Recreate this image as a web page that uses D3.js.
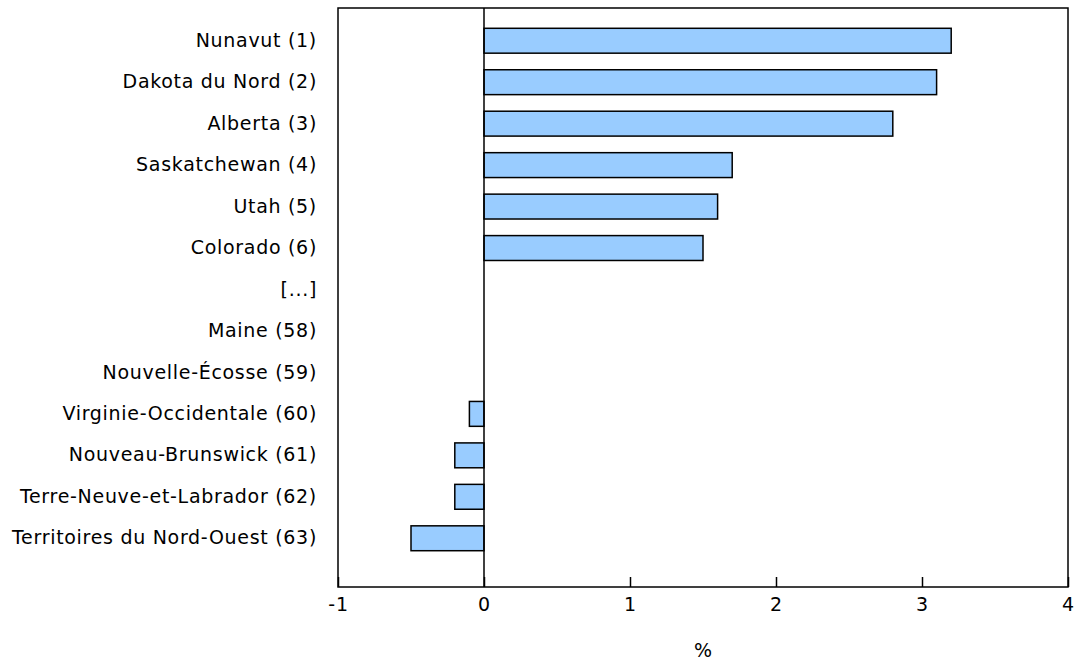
<!DOCTYPE html>
<html>
<head>
<meta charset="utf-8">
<script src="https://cdn.jsdelivr.net/npm/d3@7"></script>
<style>
    body { margin: 0; background: #fff; overflow: hidden; }
    svg text { font-family: Verdana, "DejaVu Sans", sans-serif; fill: #000; }
</style>
</head>
<body>
<div id="chart"></div>
<script>
// Data
const regions = [
    'Nunavut (1)',
    'Dakota du Nord (2)',
    'Alberta (3)',
    'Saskatchewan (4)',
    'Utah (5)',
    'Colorado (6)',
    '[...]',
    'Maine (58)',
    'Nouvelle-Écosse (59)',
    'Virginie-Occidentale (60)',
    'Nouveau-Brunswick (61)',
    'Terre-Neuve-et-Labrador (62)',
    'Territoires du Nord-Ouest (63)'
];
const values = [3.2, 3.1, 2.8, 1.7, 1.6, 1.5, 0, 0, 0, -0.1, -0.2, -0.2, -0.5];
const xTicks = [-1, 0, 1, 2, 3, 4];
const xTitle = '%';

const width = 1074;
const height = 661;
const margin = { top: 8, right: 6, bottom: 74, left: 338 };
const plotW = width - margin.left - margin.right;
const plotH = height - margin.top - margin.bottom;
const fontSize = '19px';
const letterSpacing = '0.7px';

const svg = d3.select('#chart')
    .append('svg')
    .attr('width', width)
    .attr('height', height);

const g = svg.append('g')
    .attr('transform', `translate(${margin.left},${margin.top})`);

// Scales
const x = d3.scaleLinear()
    .domain([-1, 4])
    .range([0, plotW]);

const y = d3.scaleBand()
    .domain(regions)
    .range([12, plotH - 28])
    .paddingInner(0.4)
    .paddingOuter(0.2);

// Bars
g.selectAll('rect.bar')
    .data(values)
    .enter()
    .append('rect')
    .attr('class', 'bar')
    .attr('x', d => x(Math.min(0, d)))
    .attr('y', (d, i) => y(regions[i]))
    .attr('width', d => Math.abs(x(d) - x(0)))
    .attr('height', y.bandwidth())
    .attr('fill', '#99ccff')
    .attr('stroke', '#000')
    .attr('stroke-width', 1.5)
    .attr('display', d => d === 0 ? 'none' : null);

// Zero line
g.append('line')
    .attr('x1', x(0)).attr('x2', x(0))
    .attr('y1', 0).attr('y2', plotH)
    .attr('stroke', '#000')
    .attr('stroke-width', 1.5);

// Frame
g.append('rect')
    .attr('x', 0).attr('y', 0)
    .attr('width', plotW).attr('height', plotH)
    .attr('fill', 'none')
    .attr('stroke', '#000')
    .attr('stroke-width', 1.5);

// X axis: inward ticks, plain hyphen for negatives
const xAxis = g.append('g')
    .attr('transform', `translate(0,${plotH})`)
    .call(d3.axisBottom(x).tickValues(xTicks).tickSize(-10).tickPadding(11)
        .tickFormat(d => String(d)));
xAxis.select('.domain').remove();
xAxis.selectAll('.tick line').attr('stroke', '#000').attr('stroke-width', 1.5);
xAxis.selectAll('.tick text')
    .attr('font-size', fontSize)
    .attr('letter-spacing', letterSpacing);

// Y labels
const yAxis = g.append('g')
    .call(d3.axisLeft(y).tickSize(0).tickPadding(21));
yAxis.select('.domain').remove();
yAxis.selectAll('.tick text')
    .attr('font-size', fontSize)
    .attr('letter-spacing', letterSpacing);

// Axis title
g.append('text')
    .attr('x', plotW / 2)
    .attr('y', plotH + 70)
    .attr('text-anchor', 'middle')
    .attr('font-size', fontSize)
    .text(xTitle);
</script>
</body>
</html>
